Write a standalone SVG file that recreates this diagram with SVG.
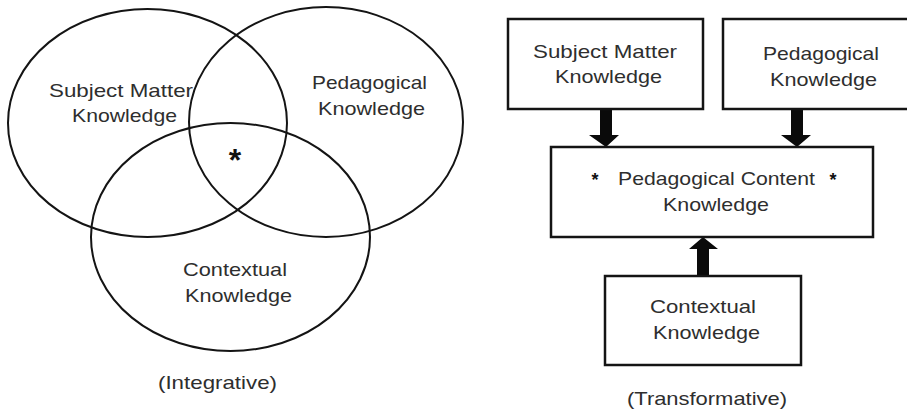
<svg xmlns="http://www.w3.org/2000/svg" width="907" height="411" viewBox="0 0 907 411">
  <style>
    .ring { fill: none; stroke: #141414; stroke-width: 2; }
    .box { fill: #ffffff; stroke: #141414; stroke-width: 2.5; }
    .lbl { font-family: "Liberation Sans", Arial, sans-serif; font-size: 19px; fill: #2e2e2e; text-anchor: middle; }
    .star { font-family: "Liberation Sans", Arial, sans-serif; fill: #111111; text-anchor: middle; font-weight: bold; }
    .arrow { fill: #0a0a0a; stroke: none; }
  </style>
  <rect width="907" height="411" fill="#ffffff"/>

  <!-- Integrative model: three overlapping knowledge domains -->
  <g id="venn-subject-matter">
    <ellipse class="ring" cx="147.5" cy="123" rx="139.5" ry="114"/>
    <text class="lbl" x="121" y="97" textLength="144" lengthAdjust="spacingAndGlyphs">Subject Matter</text>
    <text class="lbl" x="124.5" y="122" textLength="105" lengthAdjust="spacingAndGlyphs">Knowledge</text>
  </g>
  <g id="venn-pedagogical">
    <ellipse class="ring" cx="326" cy="122" rx="137" ry="115"/>
    <text class="lbl" x="369.5" y="89" textLength="115" lengthAdjust="spacingAndGlyphs">Pedagogical</text>
    <text class="lbl" x="371.5" y="115" textLength="107" lengthAdjust="spacingAndGlyphs">Knowledge</text>
  </g>
  <g id="venn-contextual">
    <ellipse class="ring" cx="230.5" cy="237" rx="139.5" ry="114"/>
    <text class="lbl" x="235" y="276" textLength="104" lengthAdjust="spacingAndGlyphs">Contextual</text>
    <text class="lbl" x="238.5" y="302" textLength="107" lengthAdjust="spacingAndGlyphs">Knowledge</text>
  </g>
  <g id="venn-overlap">
    <text class="star" x="235" y="171" font-size="32">*</text>
  </g>
  <text class="lbl" x="217.5" y="389" textLength="119" lengthAdjust="spacingAndGlyphs">(Integrative)</text>

  <!-- Transformative model: sources feeding pedagogical content knowledge -->
  <g id="connectors">
    <polygon class="arrow" points="600,109 612,109 612,135 619,135 606,147 589,135 600,135"/>
    <polygon class="arrow" points="791,109 803,109 803,135 811,135 797,147 781,135 791,135"/>
    <polygon class="arrow" points="697,276 709,276 709,249 718,249 703,237 689,249 697,249"/>
  </g>

  <g id="box-subject-matter">
    <rect class="box" x="508" y="19" width="195" height="90"/>
    <text class="lbl" x="605" y="58" textLength="144" lengthAdjust="spacingAndGlyphs">Subject Matter</text>
    <text class="lbl" x="608.5" y="83" textLength="107" lengthAdjust="spacingAndGlyphs">Knowledge</text>
  </g>
  <g id="box-pedagogical">
    <rect class="box" x="723" y="19" width="190" height="90"/>
    <text class="lbl" x="821" y="60" textLength="116" lengthAdjust="spacingAndGlyphs">Pedagogical</text>
    <text class="lbl" x="823.5" y="86" textLength="107" lengthAdjust="spacingAndGlyphs">Knowledge</text>
  </g>
  <g id="box-pck">
    <rect class="box" x="551" y="147" width="322" height="90"/>
    <text class="star" x="595" y="186" font-size="18">*</text>
    <text class="lbl" x="716.5" y="185" textLength="197" lengthAdjust="spacingAndGlyphs">Pedagogical Content</text>
    <text class="star" x="833" y="186" font-size="18">*</text>
    <text class="lbl" x="716" y="211" textLength="106" lengthAdjust="spacingAndGlyphs">Knowledge</text>
  </g>
  <g id="box-contextual">
    <rect class="box" x="605" y="276" width="196" height="89"/>
    <text class="lbl" x="703" y="313" textLength="106" lengthAdjust="spacingAndGlyphs">Contextual</text>
    <text class="lbl" x="706.5" y="339" textLength="107" lengthAdjust="spacingAndGlyphs">Knowledge</text>
  </g>
  <text class="lbl" x="707" y="405" textLength="160" lengthAdjust="spacingAndGlyphs">(Transformative)</text>
</svg>
